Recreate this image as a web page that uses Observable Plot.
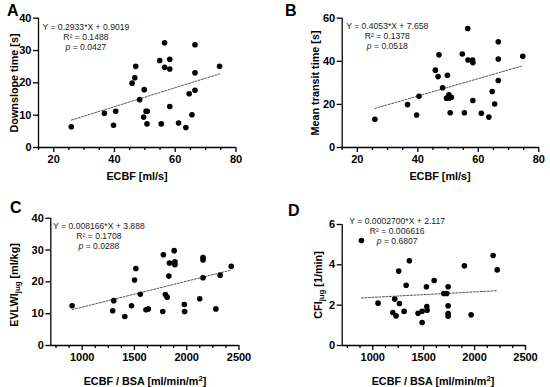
<!DOCTYPE html>
<html><head><meta charset="utf-8">
<script src="https://cdn.jsdelivr.net/npm/d3@7"></script>
<script src="https://cdn.jsdelivr.net/npm/@observablehq/plot@0.6"></script>
<style>
body{margin:0;background:#fff;}
#wrap{position:relative;width:550px;height:387px;font-family:"Liberation Sans",Arial,sans-serif;overflow:hidden;background:#fff}
.panel{position:absolute}
.panel svg{overflow:visible}
.lbl{position:absolute;font-weight:bold;font-size:10.8px;white-space:nowrap;color:#000;line-height:1}
.ylbl{transform:translate(-50%,-50%) rotate(-90deg)}
.xlbl{transform:translate(-50%,-50%)}
.letter{position:absolute;font-weight:bold;font-size:16px;line-height:1;color:#000}
sub{font-size:72%;vertical-align:-0.3em;line-height:0}
sup{font-size:72%;vertical-align:0.45em;line-height:0}
</style>
</head><body>
<div id="wrap"></div>
<script>
// ---- Panel A: Downslope time vs ECBF ----
const aX = [25.8,36.7,39.7,40.4,45.8,46.7,47.0,48.3,49.6,49.8,50.4,50.8,50.7,54.9,55.4,56.5,56.5,58.2,58.2,58.2,61.1,63.5,64.6,65.5,66.5,66.5,66.5,74.6];
const aY = [6.4,10.6,6.9,11.2,19.9,21.6,25.1,14.8,9.4,17.9,11.2,11.2,7.3,26.9,7.3,32.4,24.8,27.3,24.3,12.7,7.6,6.2,16.6,10.1,31.8,23.1,17.7,25.1];
const aXTicks = [20,40,60,80];
const aXMinor = [15,25,30,35,45,50,55,65,70,75];
const aYTicks = [0,10,20,30,40];
const aFit = {slope:0.2933, intercept:0.9019};
const aEq = ["Y = 0.2933*X + 0.9019","R² = 0.1488","p = 0.0427"];

// ---- Panel B: Mean transit time vs ECBF ----
const bX = [25.8,36.6,39.6,40.4,45.8,46.7,47.0,48.2,49.5,49.8,50.3,50.5,50.7,51.1,54.7,55.4,56.5,56.6,58.1,58.2,58.2,61.0,63.5,64.6,65.4,66.6,66.6,66.6,74.7];
const bY = [13.1,19.9,15.1,23.8,35.9,32.9,43.0,27.7,22.9,33.5,24.4,23.0,16.1,23.3,43.4,16.1,55.2,40.6,40.6,39.4,21.8,15.9,14.1,26.0,20.2,31.1,41.1,49.1,42.3];
const bXTicks = [20,40,60,80];
const bXMinor = [15,25,30,35,45,50,55,65,70,75];
const bYTicks = [0,20,40,60];
const bFit = {slope:0.4053, intercept:7.658};
const bEq = ["Y = 0.4053*X + 7.658","R² = 0.1378","p = 0.0518"];

// ---- Panel C: EVLWI_jug vs ECBF/BSA ----
const cX = [904,1292,1302,1408,1472,1501,1514,1556,1610,1633,1771,1777,1796,1813,1829,1835,1880,1887,1887,1977,1980,2124,2156,2156,2156,2279,2320,2426];
const cY = [12.5,10.9,14.1,9.1,12.5,20.6,24.2,16.1,11.2,11.5,10.7,28.5,16.0,15.2,21.8,25.9,29.8,26.3,25.4,12.9,10.7,14.7,27.6,26.9,21.3,11.5,22.1,24.9];
const cXTicks = [1000,1500,2000,2500];
const cXMinor = [750,875,1125,1250,1375,1625,1750,1875,2125,2250,2375];
const cYTicks = [0,10,20,30,40];
const cFit = {slope:0.008166, intercept:3.888};
const cEq = ["Y = 0.008166*X + 3.888","R² = 0.1708","p = 0.0288"];

// ---- Panel D: CFI_jug vs ECBF/BSA ----
const dX = [889,1052,1197,1216,1229,1255,1262,1308,1328,1360,1445,1485,1485,1527,1531,1534,1603,1698,1727,1740,1740,1740,1740,1900,1966,2182,2222];
const dY = [5.21,2.10,1.64,2.30,1.47,3.69,2.08,1.69,2.99,4.20,1.60,1.70,1.14,2.91,1.93,1.75,3.22,2.58,2.58,2.91,1.97,1.59,1.45,3.95,1.52,4.46,3.75];
const dXTicks = [1000,1500,2000,2500];
const dXMinor = [750,875,1125,1250,1375,1625,1750,1875,2125,2250,2375];
const dYTicks = [0,2,4,6];
const dFit = {slope:0.00027, intercept:2.117};
const dEq = ["Y = 0.0002700*X + 2.117","R² = 0.006616","p = 0.6807"];

const FONT = '"Liberation Sans", Arial, sans-serif';
const wrap = document.getElementById("wrap");

function makePanel(cfg) {
  const pts = cfg.x.map((v, i) => ({x: v, y: cfg.y[i]}));
  const x0 = d3.min(cfg.x), x1 = d3.max(cfg.x);
  const fit = [x0, x1].map(v => ({x: v, y: cfg.fit.slope * v + cfg.fit.intercept}));
  const svg = Plot.plot({
    width: cfg.width, height: cfg.height,
    marginLeft: cfg.m[0], marginRight: cfg.m[1], marginTop: cfg.m[2], marginBottom: cfg.m[3],
    style: {fontFamily: FONT, background: "white", color: "black", overflow: "visible"},
    x: {domain: cfg.xDomain},
    y: {domain: cfg.yDomain},
    marks: [
      Plot.axisX(cfg.xMinor, {tickSize: 3, strokeWidth: 1.3, tickFormat: () => "", label: null}),
      Plot.axisX(cfg.xTicks, {tickSize: 5, tickPadding: 3, strokeWidth: 1.3, fontSize: 11, fontWeight: "bold", tickFormat: d => String(d), label: null}),
      Plot.axisY(cfg.yTicks, {tickSize: 5, tickPadding: 2, strokeWidth: 1.3, fontSize: 11, fontWeight: "bold", tickFormat: d => String(d), label: null}),
      Plot.ruleX([cfg.xDomain[0]], {stroke: "black", strokeWidth: 1.3}),
      Plot.ruleY([cfg.yDomain[0]], {stroke: "black", strokeWidth: 1.3}),
      Plot.line(fit, {x: "x", y: "y", stroke: "#555", strokeWidth: 1, strokeDasharray: "2,1.5"}),
      Plot.dot(pts, {x: "x", y: "y", r: 2.8, fill: "black", stroke: "none"}),
      Plot.text([cfg.eq.join("\n")], {x: () => cfg.eqAt[0], y: () => cfg.eqAt[1], text: d => d,
        fontSize: 8.6, lineHeight: 1.18, lineAnchor: "middle", textAnchor: "middle", fill: "#222", fontWeight: "normal"})
    ]
  });
  // bold tick labels
  d3.select(svg).selectAll("g[aria-label$='tick label']").attr("font-weight", "bold").attr("font-size", 11);
  // italicize the "p" of the p-value line
  d3.select(svg).selectAll("tspan").each(function() {
    const t = this.textContent;
    if (t.startsWith("p = ")) {
      const s = d3.select(this);
      s.text("");
      s.append("tspan").attr("font-style", "italic").text("p");
      s.append("tspan").text(t.slice(1));
    }
  });
  const div = document.createElement("div");
  div.className = "panel";
  div.style.left = cfg.left + "px";
  div.style.top = cfg.top + "px";
  div.appendChild(svg);
  wrap.appendChild(div);
}

function addLabel(html, cls, cx, cy) {
  const d = document.createElement("div");
  d.className = "lbl " + cls;
  d.style.left = cx + "px";
  d.style.top = cy + "px";
  d.innerHTML = html;
  wrap.appendChild(d);
}
function addLetter(t, l, tp) {
  const d = document.createElement("div");
  d.className = "letter";
  d.style.left = l + "px";
  d.style.top = tp + "px";
  d.textContent = t;
  wrap.appendChild(d);
}

makePanel({x: aX, y: aY, xDomain: [15, 80], yDomain: [0, 40], xTicks: aXTicks, xMinor: aXMinor, yTicks: aYTicks,
  fit: aFit, eq: aEq, eqAt: [30.6, 34.3], width: 275, height: 190, m: [38, 39.5, 17.7, 43], left: 0, top: 0});
makePanel({x: bX, y: bY, xDomain: [15, 80], yDomain: [0, 60], xTicks: bXTicks, xMinor: bXMinor, yTicks: bYTicks,
  fit: bFit, eq: bEq, eqAt: [29.9, 51.7], width: 275, height: 190, m: [66.7, 11.7, 17.7, 43], left: 275, top: 0});
makePanel({x: cX, y: cY, xDomain: [700, 2500], yDomain: [0, 40], xTicks: cXTicks, xMinor: cXMinor, yTicks: cYTicks,
  fit: cFit, eq: cEq, eqAt: [1160, 34.4], width: 275, height: 197, m: [50.3, 36.5, 27.7, 42], left: 0, top: 190});
makePanel({x: dX, y: dY, xDomain: [700, 2500], yDomain: [0, 6], xTicks: dXTicks, xMinor: dXMinor, yTicks: dYTicks,
  fit: dFit, eq: dEq, eqAt: [1240, 5.70], width: 275, height: 197, m: [66.7, 25, 34, 42], left: 275, top: 190});

addLabel("Downslope time [s]", "ylbl", 14, 83);
addLabel("ECBF [ml/s]", "xlbl", 137, 176);
addLabel("Mean transit time [s]", "ylbl", 315, 83);
addLabel("ECBF [ml/s]", "xlbl", 440, 176);
addLabel("EVLWI<sub>jug</sub> [ml/kg]", "ylbl", 14, 285);
addLabel("ECBF / BSA [ml/min/m<sup>2</sup>]", "xlbl", 145, 381);
addLabel("CFI<sub>jug</sub> [1/min]", "ylbl", 318, 285);
addLabel("ECBF / BSA [ml/min/m<sup>2</sup>]", "xlbl", 433, 381);

addLetter("A", 7, 3);
addLetter("B", 285, 3);
addLetter("C", 10, 200);
addLetter("D", 288, 203);
</script>
</body></html>
